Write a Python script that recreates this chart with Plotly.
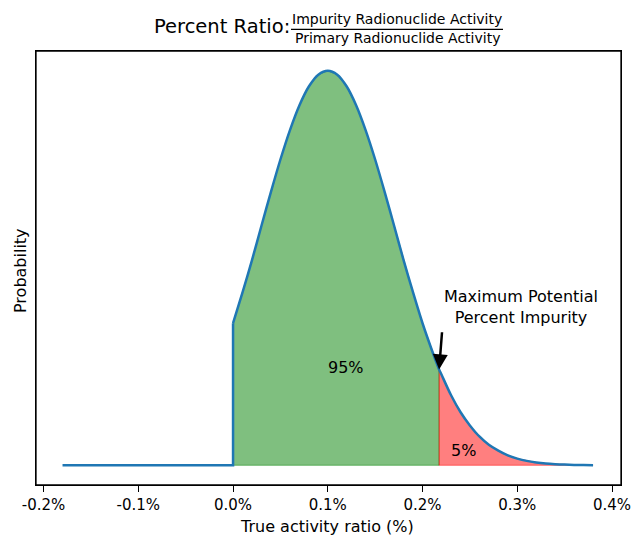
import plotly.graph_objects as go

# ---- data ----
tail_x = [-0.18, 0.0, 0.0]
tail_y = [0.0, 0.0, 0.360]

dist_x = [0.00, 0.01, 0.02, 0.03, 0.04, 0.05, 0.06, 0.07, 0.08, 0.09,
          0.10, 0.11, 0.12, 0.13, 0.14, 0.15, 0.16, 0.17, 0.18, 0.19,
          0.20, 0.21, 0.2175, 0.22, 0.23, 0.24, 0.25, 0.26, 0.27, 0.28,
          0.29, 0.30, 0.31, 0.32, 0.33, 0.34, 0.35, 0.36, 0.37, 0.38]
dist_y = [0.360, 0.438, 0.520, 0.607, 0.693, 0.775, 0.849, 0.912, 0.960, 0.990,
          1.000, 0.990, 0.960, 0.912, 0.849, 0.775, 0.693, 0.607, 0.520, 0.438,
          0.360, 0.291, 0.243, 0.230, 0.178, 0.135, 0.101, 0.073, 0.052, 0.037,
          0.025, 0.0169, 0.0111, 0.0072, 0.0045, 0.0028, 0.0017, 0.0010, 0.0006, 0.0003]

split_x = 0.2175          # maximum potential percent impurity
split_y = 0.243
tick_vals = [-0.2, -0.1, 0.0, 0.1, 0.2, 0.3, 0.4]
tick_text = ["-0.2%", "-0.1%", "0.0%", "0.1%", "0.2%", "0.3%", "0.4%"]
label_in = "95%"
label_out = "5%"

FONT = "DejaVu Sans"

green_x = [x for x in dist_x if x <= split_x]
green_y = [y for x, y in zip(dist_x, dist_y) if x <= split_x]
red_x = [x for x in dist_x if x >= split_x]
red_y = [y for x, y in zip(dist_x, dist_y) if x >= split_x]

fig = go.Figure()

# green area (95%)
fig.add_trace(go.Scatter(
    x=green_x + [green_x[-1], green_x[0], green_x[0]],
    y=green_y + [0, 0, green_y[0]],
    fill="toself", mode="lines",
    fillcolor="rgba(0,128,0,0.5)",
    line=dict(color="rgba(0,128,0,0.5)", width=1),
    hoverinfo="skip", showlegend=False))

# red area (5%)
fig.add_trace(go.Scatter(
    x=red_x + [red_x[-1], red_x[0], red_x[0]],
    y=red_y + [0, 0, red_y[0]],
    fill="toself", mode="lines",
    fillcolor="rgba(255,0,0,0.5)",
    line=dict(color="rgba(255,0,0,0.5)", width=1),
    hoverinfo="skip", showlegend=False))

# distribution curve: flat tail + jump, then smooth body
fig.add_trace(go.Scatter(
    x=tail_x, y=tail_y,
    mode="lines", line=dict(color="#1f77b4", width=2.5),
    showlegend=False))
fig.add_trace(go.Scatter(
    x=dist_x, y=dist_y,
    mode="lines", line=dict(color="#1f77b4", width=2.5, shape="spline", smoothing=0.8),
    showlegend=False))

def px_x(p):
    return (p - 36) / 585.0

def px_y(p):
    return (485 - p) / 434.0

ann = []
ann.append(dict(x=0.119, y=0.247, xref="x", yref="y", text=label_in,
                showarrow=False, font=dict(family=FONT, size=16, color="black")))
ann.append(dict(x=0.2432, y=0.037, xref="x", yref="y", text=label_out,
                showarrow=False, font=dict(family=FONT, size=16, color="black")))
ann.append(dict(x=0.3044, y=0.401, xref="x", yref="y",
                text="Maximum Potential<br>Percent Impurity",
                showarrow=False, align="center",
                font=dict(family=FONT, size=16, color="black")))
ann.append(dict(x=split_x, y=split_y, xref="x", yref="y",
                ax=0.2207, ay=0.341, axref="x", ayref="y",
                text="", showarrow=True, arrowhead=2, arrowsize=1.2,
                arrowwidth=2.5, arrowcolor="black", standoff=0))
# title
ann.append(dict(x=px_x(292), y=px_y(26), xref="paper", yref="paper",
                xanchor="right", yanchor="middle", text="Percent Ratio:",
                showarrow=False, font=dict(family=FONT, size=19.5, color="black")))
ann.append(dict(x=px_x(397), y=px_y(19), xref="paper", yref="paper",
                xanchor="center", yanchor="middle",
                text="Impurity Radionuclide Activity",
                showarrow=False, font=dict(family=FONT, size=14, color="black")))
ann.append(dict(x=px_x(397), y=px_y(38), xref="paper", yref="paper",
                xanchor="center", yanchor="middle",
                text="Primary Radionuclide Activity",
                showarrow=False, font=dict(family=FONT, size=14, color="black")))
# axis titles
ann.append(dict(x=px_x(327), y=px_y(526), xref="paper", yref="paper",
                xanchor="center", yanchor="middle",
                text="True activity ratio (%)",
                showarrow=False, font=dict(family=FONT, size=16, color="black")))
ann.append(dict(x=px_x(20), y=px_y(271), xref="paper", yref="paper",
                xanchor="center", yanchor="middle", textangle=-90,
                text="Probability",
                showarrow=False, font=dict(family=FONT, size=16, color="black")))

fig.update_layout(
    width=631, height=535,
    margin=dict(l=36, r=10, t=51, b=50, autoexpand=False),
    paper_bgcolor="white", plot_bgcolor="white",
    font=dict(family=FONT, size=15, color="black"),
    annotations=ann,
    shapes=[dict(type="line", xref="paper", yref="paper",
                 x0=px_x(291), x1=px_x(503), y0=px_y(29.3), y1=px_y(29.3),
                 line=dict(color="black", width=1.3)),
            dict(type="rect", xref="paper", yref="paper",
                 x0=0, x1=1, y0=0, y1=1, layer="above",
                 line=dict(color="black", width=1.3))],
    xaxis=dict(range=[-0.208, 0.4095], tickvals=tick_vals, ticktext=tick_text,
               ticks="outside", ticklen=6, tickwidth=1.3, tickcolor="black",
               showline=True, linecolor="black", linewidth=1.3, mirror=True,
               showgrid=False, zeroline=False, ticklabeloverflow="allow",
               automargin=False,
               tickfont=dict(family=FONT, size=15, color="black")),
    yaxis=dict(range=[-0.05, 1.05], showticklabels=False, ticks="",
               showline=True, linecolor="black", linewidth=1.3, mirror=True,
               showgrid=False, zeroline=False, automargin=False),
)

fig.write_html("out.html", config={"displayModeBar": False},
               post_script="document.body.style.margin='0';document.body.style.overflow='hidden';")
